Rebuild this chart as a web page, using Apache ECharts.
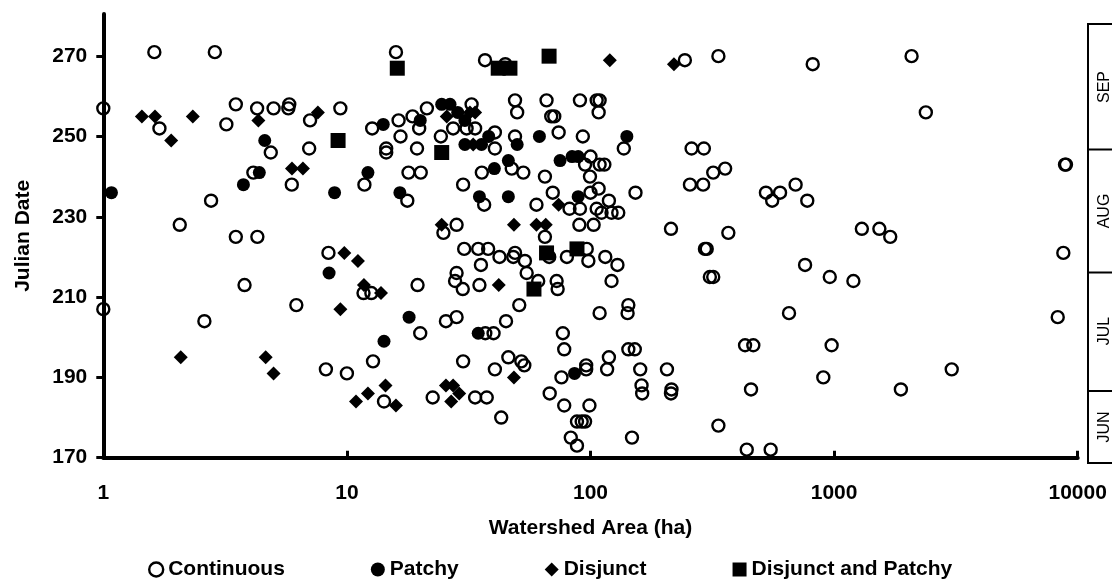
<!DOCTYPE html>
<html>
<head>
<meta charset="utf-8">
<script src="https://cdn.jsdelivr.net/npm/echarts@6/dist/echarts.min.js"></script>
<style>
  html, body { margin: 0; padding: 0; background: #fff; }
  #chart { width: 1112px; height: 579px; }
</style>
</head>
<body>
<div id="chart"></div>
<script>
// Watershed area (ha) vs. Julian date, one array per distribution class
const continuous = [
  [1.62,271],[2.87,271],[1.0,257],[1.70,252],[3.5,258],[3.2,253],[2.77,234],[2.06,228],[3.5,225],[4.29,225],[3.8,213],[1.0,207],[2.6,204],
  [4.28,257],[5.0,257],[5.8,258],[5.75,257],[7.06,254],[9.4,257],[4.87,246],[7.0,247],[12.7,252],[4.13,241],[5.94,238],[11.8,238],[8.4,221],[11.7,211],[12.6,211],[6.2,208],[8.2,192],[10,191],[12.8,194],
  [15.9,271],[36.9,269],[44.7,268],[244,269],[335,270],
  [16.3,254],[16.6,250],[14.5,247],[14.5,246],[19.4,247],[18.6,255],[19.8,252],[21.3,257],[24.3,250],[32.5,258],[27.3,252],[31,252],[33.6,252],[40.5,251],[40.5,247],[49,250],
  [49,259],[50,256],[66,259],[69,255],[71,255],[90.5,259],[106,259],[109,259],[108,256],[74,251],[93,250],[137,247],[260,247],[292,247],[357,242],[319,241],[256,238],[290,238],[153,236],
  [100,245],[95,243],[109,243],[114,243],[99.5,240],[108,237],[100,236],[119,234],[70,236],[60,233],[36.6,233],[35.8,241],[47.5,242],[53,241],[65,240],[17.7,234],[17.9,241],[20.1,241],[30,238],
  [82,232],[90.5,232],[106,232],[111,231],[122,231],[130,231],
  [214,227],[368,226],[295,222],[300,222],[309,215],[319,215],
  [28.2,228],[24.9,226],[65,225],[90,228],[103,228],
  [30.3,222],[34.6,222],[38,222],[42.3,220],[49,221],[48.2,220],[53.8,219],[35.5,218],[54.7,216],[61,214],[35,213],[67.7,220],[96.5,222],[98,219],
  [80,220],[115,220],[129,218],[122,214],[72.6,214],[73.3,212],
  [51,208],[45,204],[37,201],[40,201],[109,206],[143,208],[142,206],[77,201],[78,197],[119,195],[143,197],[152,197],[46,195],[52,194],[53.5,193],[40.5,192],
  [68,186],[76,190],[96,193],[96,192],[117,192],[160,192],[162,188],[163,186],[206,192],[215,187],[214,186],[78,183],[99,183],[88,179],[92,179],[95,179],
  [83,175],[88,173],[148,175],[335,178],[37.5,185],[33.6,185],[43,180],
  [19.5,213],[27.8,214],[29.9,212],[28.2,216],[20,201],[25.5,204],[28.2,205],[30,194],[14.2,184],[22.5,185],
  [817,268],[2080,270],[2380,256],[8870,243],[8950,243],[525,236],[600,236],[557,234],[695,238],[776,234],[1300,227],[1534,227],[1700,225],[8730,221],
  [760,218],[960,215],[1200,214],[653,206],[8280,205],[431,198],[466,198],[977,198],[903,190],[3040,192],[456,187],[1880,187],[438,172],[549,172]
];
const patchy = [
  [1.08,236],[3.76,238],[4.6,249],[4.37,241],[8.9,236],[12.2,241],[8.45,216],[14.1,253],[20,254],[24.5,258],[26.5,258],[28.5,256],[30.5,254],
  [30.5,248],[35.7,248],[38.2,250],[50,248],[61.7,250],[141,250],[46,244],[40.3,242],[75,244],[84,245],[89,245],[89,235],[46,235],[35,235],
  [16.5,236],[18,205],[14.2,199],[34.6,201],[86,191]
];
const disjunct = [
  [1.44,255],[1.63,255],[1.9,249],[2.33,255],[2.08,195],[4.33,254],[7.6,256],[5.95,242],[6.6,242],[9.76,221],[11.1,219],[11.75,213],[13.8,211],
  [9.4,207],[4.64,195],[5.0,191],[10.9,184],[12.2,186],[14.4,188],[15.9,183],[25.5,188],[27.3,188],[28.9,186],[26.8,184],[24.5,228],[48.5,228],
  [60,228],[65.5,228],[42,213],[74,233],[48.5,190],[25.7,255],[32,256],[33.6,256],[33,248],[120,269],[220,268]
];
const disjunctPatchy = [
  [16.1,267],[41.8,267],[46.7,267],[67.6,270],[9.2,249],[24.5,246],[66,221],[58.6,212],[88,222]
];

const seriesNames = ['Continuous', 'Patchy', 'Disjunct', 'Disjunct and Patchy'];
const yTicks = [170, 190, 210, 230, 250, 270];
const monthLabels = ['SEP', 'AUG', 'JUL', 'JUN'];

const FONT = "'Liberation Sans', Arial, sans-serif";
const boldText = { fontFamily: FONT, fontWeight: 'bold', fontSize: 21, color: '#000' };

const openCircle = { color: 'rgba(0,0,0,0)', borderColor: '#000', borderWidth: 2.4, opacity: 1 };
const solid = { color: '#000', borderWidth: 0, opacity: 1 };

const chart = echarts.init(document.getElementById('chart'), null, { renderer: 'canvas' });

// month band on the right edge: box, dividers and rotated labels
const bandLeft = 1088, bandTop = 24, bandBottom = 463;
const bandDividers = [149.5, 272.5, 391];
const bandLabelY = [87, 211, 331, 427];
const graphics = [
  { type: 'rect', shape: { x: bandLeft, y: bandTop, width: 40, height: bandBottom - bandTop },
    style: { fill: 'none', stroke: '#000', lineWidth: 2 }, silent: true }
];
bandDividers.forEach(y => graphics.push({
  type: 'line', shape: { x1: bandLeft, y1: y, x2: 1112, y2: y },
  style: { stroke: '#000', lineWidth: 2 }, silent: true
}));
monthLabels.forEach((m, i) => graphics.push({
  type: 'text', x: 1105, y: bandLabelY[i], rotation: Math.PI / 2, silent: true,
  style: { text: m, fontFamily: FONT, fontSize: 16, fill: '#000', align: 'center', verticalAlign: 'middle' }
}));

chart.setOption({
  animation: false,
  backgroundColor: '#fff',
  grid: { left: 103.3, right: 34.3, top: 14, bottom: 121.3, containLabel: false },
  xAxis: {
    type: 'log', logBase: 10, min: 1, max: 10000,
    name: 'Watershed Area (ha)', nameLocation: 'middle', nameGap: 60,
    nameTextStyle: boldText,
    axisLine: { lineStyle: { color: '#000', width: 4 } },
    axisTick: { inside: true, length: 7, lineStyle: { color: '#000', width: 3 } },
    axisLabel: { ...boldText, margin: 25, formatter: v => String(Math.round(v)) },
    splitLine: { show: false }, minorTick: { show: false }
  },
  yAxis: {
    type: 'value', min: 170, max: 280.5,
    name: 'Julian Date', nameLocation: 'middle', nameGap: 70,
    nameTextStyle: boldText,
    axisLine: { show: true, lineStyle: { color: '#000', width: 4 } },
    axisTick: { show: true, length: 7, customValues: yTicks, lineStyle: { color: '#000', width: 3 } },
    axisLabel: { ...boldText, margin: 16, customValues: yTicks },
    splitLine: { show: false }
  },
  legend: {
    top: 554, left: 143, itemGap: 86, itemWidth: 14, itemHeight: 14,
    textStyle: boldText, selectedMode: false,
    data: [
      { name: seriesNames[0], icon: 'circle', itemStyle: { color: 'rgba(0,0,0,0)', borderColor: '#000', borderWidth: 2.4, opacity: 1 } },
      { name: seriesNames[1], icon: 'circle', itemStyle: solid },
      { name: seriesNames[2], icon: 'diamond', itemStyle: solid },
      { name: seriesNames[3], icon: 'rect', itemStyle: solid }
    ]
  },
  graphic: graphics,
  series: [
    { name: seriesNames[0], type: 'scatter', data: continuous, symbol: 'circle', symbolSize: 12, itemStyle: openCircle, clip: false, z: 2 },
    { name: seriesNames[1], type: 'scatter', data: patchy, symbol: 'circle', symbolSize: 13, itemStyle: solid, clip: false, z: 3 },
    { name: seriesNames[2], type: 'scatter', data: disjunct, symbol: 'diamond', symbolSize: 14, itemStyle: solid, clip: false, z: 4 },
    { name: seriesNames[3], type: 'scatter', data: disjunctPatchy, symbol: 'rect', symbolSize: 15, itemStyle: solid, clip: false, z: 5 }
  ]
});
</script>
</body>
</html>
